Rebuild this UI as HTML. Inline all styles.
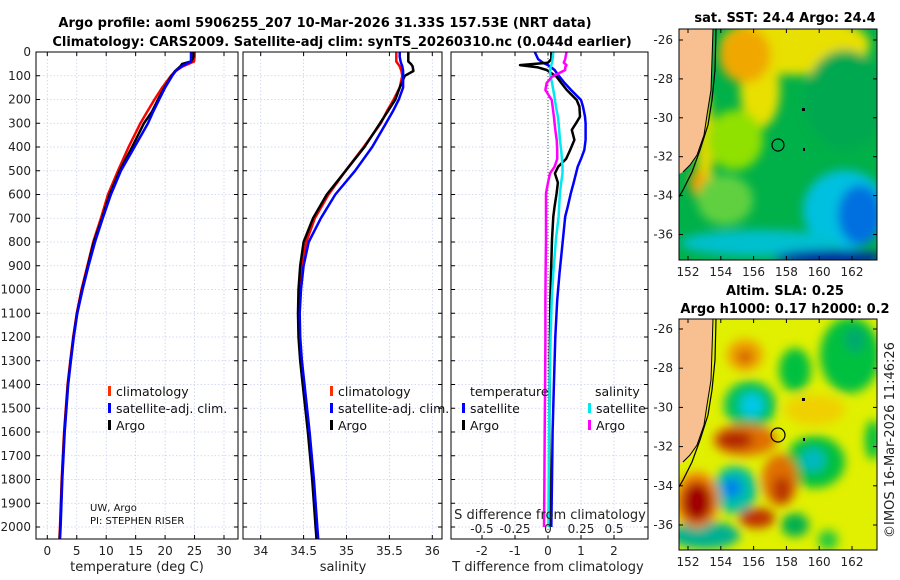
<!DOCTYPE html>
<html><head><meta charset="utf-8"><style>
html,body{margin:0;padding:0;background:#fff;}
svg{display:block;font-family:"DejaVu Sans","Liberation Sans",sans-serif;}
.tk{font-size:12px;fill:#222;}
.ttl{font-size:13px;font-weight:bold;fill:#000;}
.lab{font-size:13px;fill:#222;}
.leg{font-size:12.5px;fill:#111;}
</style></head><body>
<svg id="fig" width="900" height="580" viewBox="0 0 900 580">
<defs>
<filter id="bl" x="-20%" y="-20%" width="140%" height="140%"><feGaussianBlur stdDeviation="5"/></filter>
<clipPath id="c1"><rect x="679" y="29" width="198" height="231"/></clipPath>
<clipPath id="c2"><rect x="679" y="319" width="198" height="231"/></clipPath>
</defs>
<text class="ttl" x="325" y="27" text-anchor="middle">Argo profile: aoml 5906255_207 10-Mar-2026 31.33S 157.53E (NRT data)</text>
<text class="ttl" x="342" y="46" text-anchor="middle">Climatology: CARS2009. Satellite-adj clim: synTS_20260310.nc (0.044d earlier)</text>
<g id="panels"></g>

<g>
<text class="ttl" x="785" y="22" text-anchor="middle">sat. SST: 24.4 Argo: 24.4</text>
<g clip-path="url(#c1)">
<rect x="679" y="29" width="198" height="231" fill="#00b048"/>
<g filter="url(#bl)">
<ellipse cx="795" cy="45" rx="75" ry="30" fill="#e8e000"/>
<ellipse cx="760" cy="90" rx="20" ry="38" fill="#e8e000"/>
<ellipse cx="745" cy="55" rx="26" ry="28" fill="#f0a800"/>
<ellipse cx="705" cy="150" rx="8" ry="60" fill="#e8d800"/>
<ellipse cx="698" cy="183" rx="8" ry="14" fill="#f0a000"/>
<ellipse cx="735" cy="140" rx="28" ry="30" fill="#90e000"/>
<ellipse cx="725" cy="200" rx="28" ry="25" fill="#60d040"/>
<ellipse cx="845" cy="100" rx="40" ry="50" fill="#00a850"/>
<ellipse cx="845" cy="210" rx="42" ry="40" fill="#00c0e0"/>
<ellipse cx="760" cy="243" rx="80" ry="13" fill="#00c0d0"/>
<ellipse cx="860" cy="215" rx="22" ry="30" fill="#0070e0"/>
<ellipse cx="830" cy="258" rx="55" ry="8" fill="#0020a0"/>
</g>
<g>
<path d="M679,29 L713,29 L712,60 L711,90 L707,115 L704,135 L697,155 L690,165 L683,172 L679,174 Z" fill="#f8c090"/>
<path d="M716,29 L715,70 L712,100 L708,125 L700,150 L692,172 L683,190 L679,197" fill="none" stroke="#000" stroke-width="1.2"/>
<path d="M713,29 L712,60 L711,90 L707,115 L704,135 L697,155 L690,165 L683,172" fill="none" stroke="#000" stroke-width="1"/>
</g>
</g>
<rect x="679" y="29" width="198" height="231" fill="none" stroke="#000" stroke-width="1"/>
<circle cx="778" cy="145" r="6" fill="none" stroke="#000" stroke-width="1.2"/>
<rect x="802" y="108" width="3" height="3" fill="#000"/><rect x="803" y="148" width="2" height="3" fill="#000"/>
<g id="map1ticks"></g>
</g>

<g>
<text class="ttl" x="785" y="295" text-anchor="middle">Altim. SLA: 0.25</text>
<text class="ttl" x="785" y="313" text-anchor="middle">Argo h1000: 0.17 h2000: 0.2</text>
<g clip-path="url(#c2)">
<rect x="679" y="319" width="198" height="231" fill="#e0f000"/>
<g filter="url(#bl)">
<ellipse cx="850" cy="355" rx="30" ry="38" fill="#00c040"/>
<ellipse cx="855" cy="340" rx="10" ry="12" fill="#00a870"/>
<ellipse cx="795" cy="370" rx="16" ry="22" fill="#00c040"/>
<ellipse cx="750" cy="405" rx="26" ry="24" fill="#00c060"/>
<ellipse cx="752" cy="405" rx="12" ry="12" fill="#00c8e8"/>
<ellipse cx="815" cy="462" rx="30" ry="26" fill="#00c040"/>
<ellipse cx="813" cy="460" rx="12" ry="12" fill="#00b8c0"/>
<ellipse cx="735" cy="490" rx="22" ry="24" fill="#00c0a0"/>
<ellipse cx="732" cy="488" rx="10" ry="10" fill="#0080f0"/>
<ellipse cx="705" cy="535" rx="35" ry="14" fill="#00b090"/>
<ellipse cx="795" cy="525" rx="14" ry="12" fill="#00b050"/>
<ellipse cx="873" cy="440" rx="8" ry="20" fill="#00c040"/>
<ellipse cx="828" cy="540" rx="10" ry="10" fill="#20c840"/>
<ellipse cx="745" cy="355" rx="18" ry="16" fill="#f0a000"/>
<ellipse cx="745" cy="357" rx="8" ry="7" fill="#d06000"/>
<ellipse cx="697" cy="500" rx="22" ry="28" fill="#f08000"/>
<ellipse cx="697" cy="502" rx="15" ry="20" fill="#a00000"/>
<ellipse cx="745" cy="440" rx="32" ry="16" fill="#e07000"/>
<ellipse cx="735" cy="440" rx="18" ry="9" fill="#b02000"/>
<ellipse cx="780" cy="480" rx="18" ry="26" fill="#e07000"/>
<ellipse cx="782" cy="490" rx="9" ry="14" fill="#b83000"/>
<ellipse cx="757" cy="518" rx="18" ry="10" fill="#c03000"/>
<ellipse cx="815" cy="410" rx="30" ry="15" fill="#f0d000"/>
</g>
<g transform="translate(0,290)">
<path d="M679,29 L713,29 L712,60 L711,90 L707,115 L704,135 L697,155 L690,165 L683,172 L679,174 Z" fill="#f8c090"/>
<path d="M716,29 L715,70 L712,100 L708,125 L700,150 L692,172 L683,190 L679,197" fill="none" stroke="#000" stroke-width="1.2"/>
<path d="M713,29 L712,60 L711,90 L707,115 L704,135 L697,155 L690,165 L683,172" fill="none" stroke="#000" stroke-width="1"/>
</g>
</g>
<rect x="679" y="319" width="198" height="231" fill="none" stroke="#000" stroke-width="1"/>
<circle cx="778" cy="435" r="7" fill="none" stroke="#000" stroke-width="1.2"/>
<rect x="802" y="398" width="3" height="3" fill="#000"/><rect x="803" y="438" width="2" height="3" fill="#000"/>
<g id="map2ticks"></g>
</g>
<text x="0" y="0" transform="translate(894,440) rotate(-90)" text-anchor="middle" style="font-size:13px;fill:#222">©IMOS 16-Mar-2026 11:46:26</text>
</svg>
<script>
const NS='http://www.w3.org/2000/svg';
// ---- data ----
const depths=[0,20,40,50,60,80,100,150,200,250,300,400,500,600,700,800,900,1000,1100,1200,1300,1400,1600,1800,2000,2050];
const tClim=[25.0,25.0,24.9,24.0,23.0,21.8,21.0,19.5,18.2,17.0,15.8,13.8,12.0,10.3,9.1,7.8,6.8,5.8,5.0,4.4,3.9,3.45,2.85,2.45,2.15,2.05];
const tSat=[24.4,24.4,24.4,23.6,22.8,21.8,21.2,20.0,19.0,18.0,17.1,14.8,12.5,10.8,9.4,8.1,7.0,6.0,5.1,4.5,4.0,3.55,2.95,2.55,2.25,2.15];
const tArgo=[24.8,24.8,24.4,22.9,22.6,21.7,21.1,19.9,18.8,17.8,16.4,14.4,12.3,10.6,9.3,7.9,6.9,5.9,5.05,4.45,3.95,3.5,2.9,2.5,2.2,2.1];
const sClim=[35.58,35.58,35.58,35.6,35.62,35.64,35.65,35.62,35.55,35.47,35.40,35.20,34.99,34.79,34.63,34.53,34.48,34.45,34.445,34.45,34.47,34.50,34.56,34.61,34.65,34.66];
const sSat=[35.62,35.62,35.63,35.64,35.65,35.66,35.66,35.66,35.61,35.54,35.46,35.30,35.10,34.87,34.70,34.56,34.50,34.47,34.455,34.46,34.48,34.51,34.57,34.62,34.66,34.67];
const sArgo=[35.72,35.72,35.72,35.75,35.77,35.78,35.68,35.62,35.57,35.48,35.39,35.21,34.99,34.77,34.61,34.50,34.46,34.44,34.435,34.44,34.46,34.49,34.55,34.60,34.64,34.65];
const dDepths=[0,30,45,55,65,76,104,130,160,202,230,272,300,328,370,413,450,483,511,550,595,650,693,790,932,1045,1200,1400,1600,1800,2000];
const tSatDiff=[-0.4,-0.3,-0.15,0.0,0.1,0.2,0.35,0.5,0.7,1.0,1.06,1.12,1.14,1.14,1.14,1.1,1.0,0.9,0.85,0.78,0.69,0.6,0.52,0.45,0.35,0.28,0.22,0.18,0.14,0.12,0.1];
const tArgoDiff=[0.1,0.1,0.0,-0.85,-0.3,-0.04,0.26,0.4,0.57,0.87,0.95,0.97,0.85,0.72,0.8,0.67,0.55,0.31,0.21,0.3,0.26,0.2,0.16,0.12,0.09,0.07,0.06,0.05,0.04,0.05,0.04];
const sSatDiff=[0.04,0.035,0.03,0.025,0.02,0.015,0.02,0.03,0.04,0.053,0.06,0.075,0.08,0.085,0.09,0.1,0.105,0.11,0.11,0.1,0.09,0.085,0.08,0.06,0.04,0.028,0.02,0.012,0.008,0.005,0.003];
const sArgoDiff=[0.14,0.13,0.12,0.14,0.13,0.13,0.03,-0.01,-0.02,0.028,0.035,0.045,0.05,0.055,0.066,0.07,0.07,0.05,0.015,0.0,-0.015,-0.015,-0.015,-0.015,-0.018,-0.02,-0.02,-0.022,-0.025,-0.027,-0.03];
const depthTicks=[0,100,200,300,400,500,600,700,800,900,1000,1100,1200,1300,1400,1500,1600,1700,1800,1900,2000];
const tTicks=[0,5,10,15,20,25,30];
const sTicks=[34,34.5,35,35.5,36];
const dTTicks=[-2,-1,0,1,2];
const dSTicks=[-0.5,-0.25,0,0.25,0.5];
const dSTickLabels=['-0.5','-0.25','0','0.25','0.5'];
const lonTicks=[152,154,156,158,160,162];
const latTicks=[-26,-28,-30,-32,-34,-36];
// ---- scales ----
const yD=d=>52+d*0.2375;
const xT=t=>47.3+t*5.89;
const xS=s=>260.7+(s-34)*85.8;
const xDT=v=>548+v*33;
const xDS=v=>548+v*132;
const xLon=l=>688+(l-152)*16.4;
const yLat1=l=>40+(-26-l)*19.45;
const yLat2=l=>329+(-26-l)*19.6;
const root=document.getElementById('panels');
function el(tag,attrs,parent,txt){const e=document.createElementNS(NS,tag);for(const k in attrs)e.setAttribute(k,attrs[k]);if(txt!==undefined)e.textContent=txt;(parent||root).appendChild(e);return e;}
const Y0=52,Y1=539;
function panel(x0,x1,name,ticks,xf,labels,showY){
  const g=el('g',{});
  
  
  depthTicks.forEach(d=>{el('line',{x1:x0,x2:x1,y1:yD(d),y2:yD(d),stroke:'#c8d0ee','stroke-width':0.8,'stroke-dasharray':'1.5,2'},g);
    el('line',{x1:x0,x2:x0+4,y1:yD(d),y2:yD(d),stroke:'#000'},g);el('line',{x1:x1-4,x2:x1,y1:yD(d),y2:yD(d),stroke:'#000'},g);
    if(showY){const t=el('text',{class:'tk',x:x0-5,y:yD(d)+4,'text-anchor':'end'},g,String(d));}});
  ticks.forEach((v,i)=>{const x=xf(v);el('line',{x1:x,x2:x,y1:Y0,y2:Y1,stroke:'#c8d0ee','stroke-width':0.8,'stroke-dasharray':'1.5,2'},g);
    el('line',{x1:x,x2:x,y1:Y0,y2:Y0+4,stroke:'#000'},g);el('line',{x1:x,x2:x,y1:Y1-4,y2:Y1,stroke:'#000'},g);
    if(labels){const t=el('text',{class:'tk',x:x,y:555,'text-anchor':'middle'},g,labels[i]);}});
  return g;
}
function line(g,xs,ds,xf,color,w,name){
  const pts=xs.map((v,i)=>xf(v).toFixed(1)+','+yD(ds[i]).toFixed(1)).join(' ');
  const p=el('polyline',{points:pts,fill:'none',stroke:color,'stroke-width':w,'stroke-linejoin':'round'},g);
  
  
}
function frame(g,x0,x1){el('rect',{x:x0,y:Y0,width:x1-x0,height:Y1-Y0,fill:'none',stroke:'#000','stroke-width':1},g);}
function legItem(g,x,y,color,txt,name){
  el('rect',{x:x,y:y-10,width:3,height:10,fill:color},g);
  const t=el('text',{class:'leg',x:x+8,y:y},g,txt);
  
  
}
let g=panel(36,238,'temperature-panel',tTicks,xT,tTicks.map(String),true);
line(g,tClim,depths,xT,'#ff0000',2.5,'temp-climatology-line');
line(g,tArgo,depths,xT,'#000',2.5,'temp-argo-line');
line(g,tSat,depths,xT,'#0000ff',2.5,'temp-satellite-line');
frame(g,36,238);
legItem(g,108,396,'#ff3000','climatology','legend-climatology');
legItem(g,108,413,'#0000ff','satellite-adj. clim.','legend-satellite-adj');
legItem(g,108,430,'#000','Argo','legend-argo');
el('text',{x:90,y:511,style:'font-size:10px;fill:#111'},g,'UW, Argo');
el('text',{x:90,y:524,style:'font-size:10px;fill:#111'},g,'PI: STEPHEN RISER');
let t=el('text',{class:'lab',x:137,y:571,'text-anchor':'middle'},g,'temperature (deg C)');


g=panel(243,442,'salinity-panel',sTicks,xS,sTicks.map(String),false);
line(g,sClim,depths,xS,'#ff0000',2.5,'sal-climatology-line');
line(g,sArgo,depths,xS,'#000',2.5,'sal-argo-line');
line(g,sSat,depths,xS,'#0000ff',2.5,'sal-satellite-line');
frame(g,243,442);
legItem(g,330,396,'#ff3000','climatology','legend-climatology-2');
legItem(g,330,413,'#0000ff','satellite-adj. clim.','legend-satellite-adj-2');
legItem(g,330,430,'#000','Argo','legend-argo-2');
t=el('text',{class:'lab',x:343,y:571,'text-anchor':'middle'},g,'salinity');


g=panel(451,648,'difference-panel',dTTicks,xDT,null,false);
dTTicks.forEach(v=>{const tt=el('text',{class:'tk',x:xDT(v),y:555,'text-anchor':'middle'},g,String(v));});
el('line',{x1:xDT(0),x2:xDT(0),y1:Y0,y2:Y1,stroke:'#446644','stroke-width':1,'stroke-dasharray':'1,2'},g);
line(g,tSatDiff,dDepths,xDT,'#0000ff',2.5,'tdiff-satellite-line');
line(g,tArgoDiff,dDepths,xDT,'#000',2.5,'tdiff-argo-line');
line(g,sSatDiff,dDepths,xDS,'#00e8f0',2.5,'sdiff-satellite-line');
line(g,sArgoDiff,dDepths,xDS,'#ff00ff',2.5,'sdiff-argo-line');
frame(g,451,648);
el('text',{class:'leg',x:470,y:396},g,'temperature');
el('text',{class:'leg',x:595,y:396},g,'salinity');
legItem(g,462,413,'#0000ff','satellite','legend-t-satellite');
legItem(g,462,430,'#000','Argo','legend-t-argo');
legItem(g,588,413,'#00e8f0','satellite','legend-s-satellite');
legItem(g,588,430,'#ff00ff','Argo','legend-s-argo');
t=el('text',{class:'lab',x:550,y:519,'text-anchor':'middle'},g,'S difference from climatology');


dSTicks.forEach((v,i)=>{const tt=el('text',{class:'tk',x:xDS(v),y:533,'text-anchor':'middle'},g,dSTickLabels[i]);});
t=el('text',{class:'lab',x:548,y:571,'text-anchor':'middle'},g,'T difference from climatology');


function mapTicks(id,top,bot,ylat){
  const mg=document.getElementById(id);
  lonTicks.forEach(l=>{const x=xLon(l);el('line',{x1:x,x2:x,y1:bot,y2:bot-4,stroke:'#000'},mg);el('line',{x1:x,x2:x,y1:top,y2:top+4,stroke:'#000'},mg);
    const tt=el('text',{class:'tk',x:x,y:bot+16,'text-anchor':'middle'},mg,String(l));});
  latTicks.forEach(l=>{const y=ylat(l);el('line',{x1:679,x2:683,y1:y,y2:y,stroke:'#000'},mg);el('line',{x1:873,x2:877,y1:y,y2:y,stroke:'#000'},mg);
    const tt=el('text',{class:'tk',x:673,y:y+4,'text-anchor':'end'},mg,String(l));});
}
mapTicks('map1ticks',29,260,yLat1);
mapTicks('map2ticks',319,550,yLat2);
</script>
</body></html>
